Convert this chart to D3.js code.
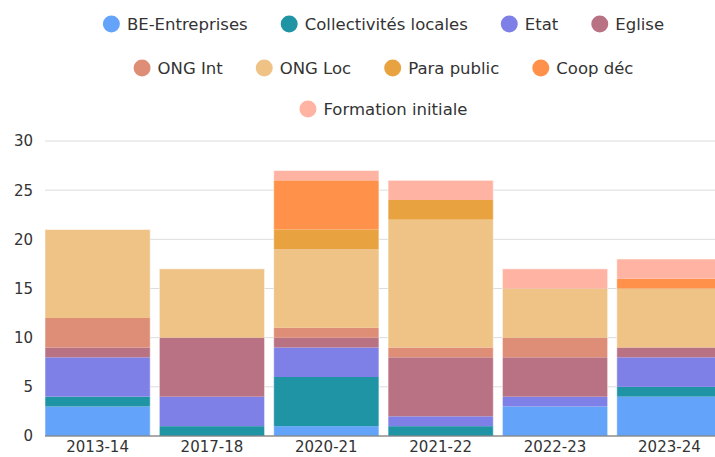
<!DOCTYPE html>
<html><head><meta charset="utf-8">
<script src="https://cdn.jsdelivr.net/npm/d3@7"></script>
<style>body{margin:0;background:#fff;}svg{display:block;font-family:"DejaVu Sans",sans-serif;}</style>
</head><body><svg id="c" width="715" height="457"></svg>
<script>
const categories = ["2013-14","2017-18","2020-21","2021-22","2022-23","2023-24"];
const seriesNames = ["BE-Entreprises","Collectivités locales","Etat","Eglise","ONG Int","ONG Loc","Para public","Coop déc","Formation initiale"];
const colors = ["#63a4fa","#1e94a5","#7e80e7","#b87284","#de8e76","#efc286","#e9a240","#ff914a","#ffb3a3"];
const BE = [3,0,1,0,3,4];
const Coll = [1,1,5,1,0,1];
const Etat = [4,3,3,1,1,3];
const Eglise = [1,6,1,6,4,1];
const ONGInt = [3,0,1,1,2,0];
const ONGLoc = [9,7,8,13,5,6];
const Para = [0,0,2,2,0,0];
const Coop = [0,0,5,0,0,1];
const Formation = [0,0,1,2,2,2];
const yTicks = [0,5,10,15,20,25,30];

const values = [BE,Coll,Etat,Eglise,ONGInt,ONGLoc,Para,Coop,Formation];
const table = categories.map((c,i)=>{const o={cat:c}; seriesNames.forEach((s,j)=>o[s]=values[j][i]); return o;});
const stack = d3.stack().keys(seriesNames)(table);

const svg = d3.select("#c");
const m = {l:45, r:-7, t:141, b:21};
const W = 715, H = 457;
const x = d3.scaleBand().domain(categories).range([m.l, W - m.r]).paddingInner(0.08).paddingOuter(0);
const y = d3.scaleLinear().domain([0,30]).range([H - m.b, m.t]);

// grid
svg.append("g").selectAll("line").data(yTicks).join("line")
  .attr("x1", m.l).attr("x2", W).attr("y1", d=>y(d)).attr("y2", d=>y(d))
  .attr("stroke", "#dcdcdc").attr("stroke-width", 1);

// y labels
svg.append("g").selectAll("text").data(yTicks).join("text")
  .attr("x", 33).attr("y", d=>y(d)).attr("dy","0.36em").attr("text-anchor","end")
  .attr("font-size", 15).attr("fill","#333").text(d=>d);

// bars
svg.append("g").selectAll("g").data(stack).join("g")
  .attr("fill",(d,i)=>colors[i])
  .selectAll("rect").data(d=>d).join("rect")
  .attr("x", d=>x(d.data.cat)).attr("width", x.bandwidth())
  .attr("y", d=>y(d[1])).attr("height", d=>y(d[0]) - y(d[1]));

// bar outline subtle
svg.append("g").selectAll("rect").data(categories).join("rect")
  .attr("x", c=>x(c)).attr("width", x.bandwidth())
  .attr("y", (c,i)=>y(d3.sum(values, v=>v[i]))).attr("height", (c,i)=>y(0)-y(d3.sum(values, v=>v[i])))
  .attr("rx",1.5)
  .attr("fill","none").attr("stroke","rgba(255,255,255,0.5)").attr("stroke-width",1);

// baseline
svg.append("line").attr("x1", m.l).attr("x2", W).attr("y1", y(0)).attr("y2", y(0))
  .attr("stroke","#666").attr("stroke-width",1);

// x labels
svg.append("g").selectAll("text").data(categories).join("text")
  .attr("x", c=>x(c)+x.bandwidth()/2).attr("y", 457-5).attr("text-anchor","middle")
  .attr("font-size", 15).attr("fill","#333").text(c=>c);

// legend
const rows = [[0,1,2,3],[4,5,6,7],[8]];
const rowY = [24,68,109];
const fs = 16.5;
const lg = svg.append("g");
const tmp = lg.append("text").attr("font-size",fs);
const widths = seriesNames.map(s=>{tmp.text(s); return tmp.node().getComputedTextLength();});
tmp.remove();
const sym = 17, symGap = 7, itemGap = 33;
rows.forEach((r,ri)=>{
  const total = d3.sum(r, i=>sym+symGap+widths[i]) + itemGap*(r.length-1);
  let cx = (m.l + W - m.r - total)/2;
  r.forEach(i=>{
    const g = lg.append("g").attr("transform",`translate(${cx},${rowY[ri]})`);
    g.append("ellipse").attr("cx", sym/2).attr("cy",0).attr("rx",sym/2).attr("ry",8.5).attr("fill",colors[i]);
    g.append("text").attr("x", sym+symGap).attr("y",0).attr("dy","0.36em").attr("font-size",fs).attr("fill","#333").text(seriesNames[i]);
    cx += sym+symGap+widths[i]+itemGap;
  });
});
</script></body></html>
